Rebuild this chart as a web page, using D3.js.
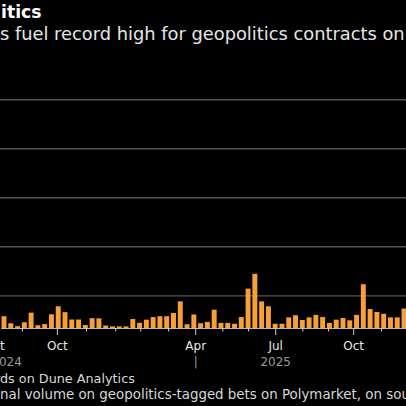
<!DOCTYPE html>
<html>
<head>
<meta charset="utf-8">
<script src="https://cdn.jsdelivr.net/npm/d3@7"></script>
<style>
  html, body { margin: 0; padding: 0; background: #000; }
  svg { display: block; }
  text { font-family: "DejaVu Sans", sans-serif; }
</style>
</head>
<body>
<svg width="406" height="406"></svg>
<script>
const w = 406;
const h = 406;

// weekly notional volume, $M
const volume = [7.2, 2.9, 1.1, 3.5, 9.4, 1.7, 2.4, 8.4, 13.3, 9.7,
  5.2, 5.2, 1.8, 6.0, 5.9, 1.5, 1.0, 1.0, 1.0, 5.5,
  3.2, 5.1, 6.7, 7.2, 7.2, 9.2, 16.3, 2.3, 8.3, 2.9,
  3.7, 11.2, 3.1, 3.1, 2.6, 6.7, 24.1, 33.2, 16.3, 13.3,
  2.6, 2.6, 6.5, 7.8, 4.9, 6.5, 8.0, 6.7, 3.1, 5.1,
  6.1, 4.7, 8.0, 26.8, 11.6, 9.8, 8.7, 6.5, 6.5, 11.9];
const weeks = volume.map((d, i) => i);

const gridValues = [20, 50, 80, 110, 140];

// axis ticks, in week units
const tickWeeks = [3.15, 8.3, 12.6, 16.9, 20.6, 24.7, 28.7, 32.7, 36.5, 40.5, 44.5, 48.3, 52.0, 56.1];
const monthLabels = ['Sept', 'Oct', 'Apr', 'Jul', 'Oct'];
const monthWeeks = [-1.5, 8.3, 28.7, 40.5, 52.0];
const yearLabels = ['2024', '|', '2025'];
const yearWeeks = [0.8, 28.7, 40.5];

const svg = d3.select('svg');

const x = d3.scaleBand()
  .domain(weeks)
  .range([0.6, 407.4])
  .paddingInner(0.27)
  .paddingOuter(0.135);

const xw = d3.scaleLinear().domain([0, volume.length]).range([0.6, 407.4]);
const y = d3.scaleLinear().domain([0, 140]).range([328, 99.3]);

// gridlines
svg.append('g')
  .attr('transform', `translate(${w},0)`)
  .call(d3.axisLeft(y).tickValues(gridValues).tickSize(w).tickFormat(''))
  .call(g => g.select('.domain').remove())
  .selectAll('line')
  .attr('stroke', '#555')
  .attr('stroke-width', 1.4);

// bars
svg.append('g')
  .selectAll('rect')
  .data(volume)
  .enter()
  .append('rect')
  .attr('x', (d, i) => x(i))
  .attr('width', x.bandwidth())
  .attr('y', d => y(d))
  .attr('height', d => y(0) - y(d))
  .attr('fill', '#f7a035');

// baseline + ticks
const xAxis = svg.append('g')
  .attr('transform', `translate(0,${y(0)})`)
  .call(d3.axisBottom(xw).tickValues(tickWeeks).tickSize(3.5).tickSizeOuter(0).tickFormat(''));
xAxis.select('.domain').attr('stroke', '#bbb').attr('stroke-width', 1);
xAxis.selectAll('.tick line')
  .attr('stroke', '#ccc')
  .attr('y2', d => monthWeeks.includes(d) ? 7 : 3.5);

// month labels
svg.append('g')
  .attr('transform', `translate(0,${y(0)})`)
  .call(d3.axisBottom(xw).tickValues(monthWeeks).tickSize(0)
    .tickFormat((d, i) => monthLabels[i]))
  .call(g => g.select('.domain').remove())
  .selectAll('text')
  .attr('y', 22)
  .attr('dy', 0)
  .attr('fill', '#e8e8e8')
  .style('font-size', '12px')
  .style('font-family', '"DejaVu Sans", sans-serif');

// year labels
svg.append('g')
  .attr('transform', `translate(0,${y(0)})`)
  .call(d3.axisBottom(xw).tickValues(yearWeeks).tickSize(0)
    .tickFormat((d, i) => yearLabels[i]))
  .call(g => g.select('.domain').remove())
  .selectAll('text')
  .attr('y', 37.5)
  .attr('dy', 0)
  .attr('fill', '#9a9a9a')
  .style('font-size', '12px')
  .style('font-family', '"DejaVu Sans", sans-serif');

// text that runs off the left edge: size it so the visible part matches
function fitCut(sel, full, visible, x0, x1, size0) {
  sel.text(full).style('font-size', size0 + 'px');
  const node = sel.node();
  const n = full.indexOf(visible);
  const vw = node.getSubStringLength(n, visible.length);
  const s = size0 * (x1 - x0) / vw;
  sel.style('font-size', s + 'px');
  sel.attr('x', x0 - node.getSubStringLength(0, n));
  return s;
}

fitCut(svg.append('text').attr('y', 18).attr('fill', '#fff').attr('font-weight', 'bold'),
  'Betting on Geopolitics', 'itics', 1, 41.7, 17);

fitCut(svg.append('text').attr('y', 40).attr('fill', '#e6e6e6'),
  'Middle East conflicts fuel record high for geopolitics contracts on Polymarket',
  's fuel record high for geopolitics contracts on', 0, 405, 17);

const fs = fitCut(svg.append('text').attr('y', 382.5).attr('fill', '#d8d8d8'),
  'Source: Bloomberg compilation of dashboards on Dune Analytics',
  'ds on Dune Analytics', 0, 135, 13);

const note = svg.append('text').attr('y', 398.5).attr('fill', '#d8d8d8');
fitCut(note,
  'Note: Weekly notional volume on geopolitics-tagged bets on Polymarket, on sourced dashboards',
  'nal volume on geopolitics-tagged bets on Polymarket,', 0, 361, fs);
</script>
</body>
</html>
